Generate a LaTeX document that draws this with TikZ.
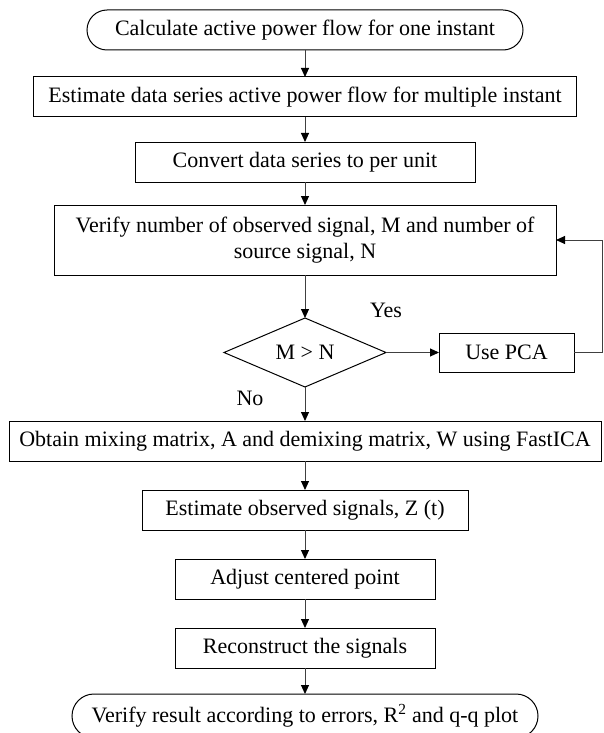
\documentclass[tikz,border=0pt]{standalone}
\usepackage{fontspec}
\setmainfont{Liberation Serif}
\usepackage{tikz}
\usetikzlibrary{positioning,shapes,arrows.meta}
\tikzstyle{pr}=[%
      rectangle, draw=black, line width=1pt, fill=none,
      minimum height=40pt, inner sep=0pt, outer sep=0pt, align=center
]
\tikzstyle{tm}=[%
      rounded rectangle, draw=black, line width=1pt, fill=none,
      minimum height=40pt, inner sep=0pt, outer sep=0pt
]
\tikzstyle{dc}=[%
      diamond, aspect=2.35, draw=black, line width=1pt, fill=none,
      minimum width=162pt, minimum height=69pt, inner sep=0pt, outer sep=0pt
]
\begin{document}
\begin{tikzpicture}[auto,
    font=\fontsize{22}{26}\selectfont,
    every edge/.style={draw=black!75, line width=1pt},
    -{Triangle[length=9pt,width=8pt,color=black]}
  ]
    \useasboundingbox (0,0) rectangle (603pt,-733pt);

    \node[tm, minimum width=436pt] (0) at (305pt,-30pt) {Calculate active power flow for one instant};
    \node[pr, minimum width=543pt] (1) [below = 27pt of 0] {Estimate data series active power flow for multiple instant};
    \node[pr, minimum width=340pt] (2) [below = 25pt of 1] {Convert data series to per unit};
    \node[pr, minimum width=502pt, minimum height=70pt] (3) [below = 23pt of 2] {Verify number of observed signal, M and number of\\source signal, N};
    \node[dc] (4) [below = 43pt of 3] {M > N};
    \node[pr, minimum width=135pt, minimum height=39pt] (5) [right = 53pt of 4] {Use PCA};
    \node[pr, minimum width=592pt] (6) [below = 34pt of 4] {Obtain mixing matrix, A and demixing matrix, W using FastICA};
    \node[pr, minimum width=326pt] (7) [below = 29pt of 6] {Estimate observed signals, Z (t)};
    \node[pr, minimum width=260pt] (8) [below = 29pt of 7] {Adjust centered point};
    \node[pr, minimum width=260pt] (9) [below = 29pt of 8] {Reconstruct the signals};
    \node[tm, minimum width=466pt, minimum height=44pt] (10) [below = 26pt of 9] {Verify result according to errors, R\textsuperscript{2} and q-q plot};

    \node (yes) at ([yshift=42pt]4.east) {Yes};
    \node (no) at ([xshift=-55pt,yshift=-11pt]4.south) {No};
    \coordinate[right = 28pt of 5.east] (fb);

    \path (0) edge (1)
          (1) edge (2)
          (2) edge (3)
          (3) edge (4)
          (4) edge (5)
          (4) edge (6)
          (6) edge (7)
          (7) edge (8)
          (8) edge (9)
          (9) edge (10)
    ;
    \draw[draw=black!75, line width=1pt] (5.east) -- (fb) |- (3.east);

  \end{tikzpicture}
\end{document}
